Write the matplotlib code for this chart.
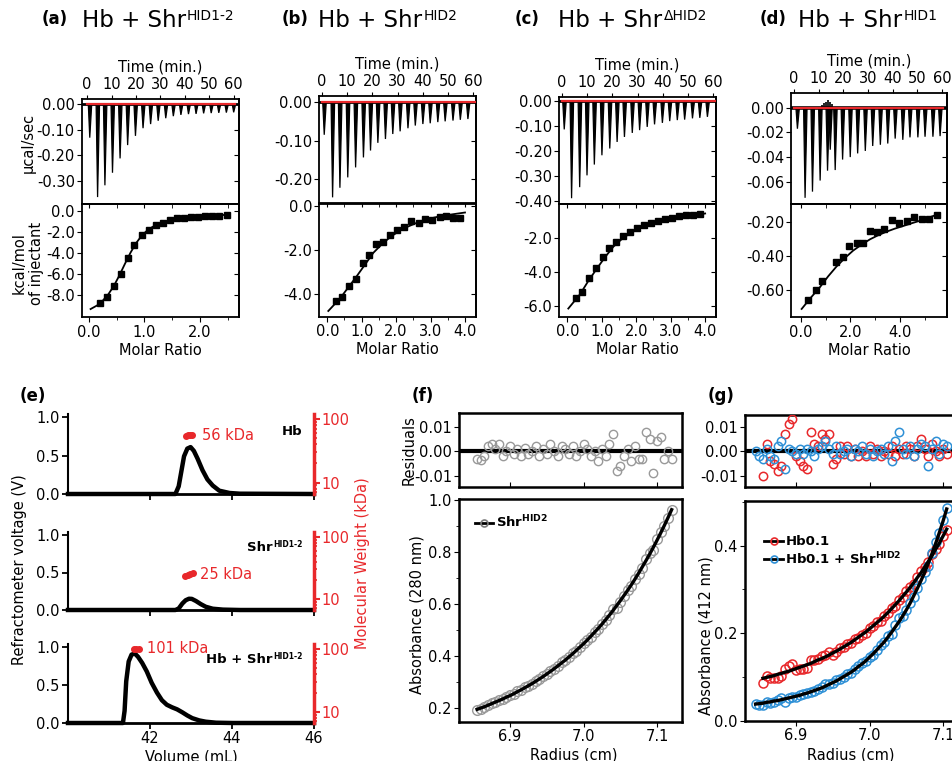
import numpy as np
import matplotlib
matplotlib.use("Agg")
import matplotlib.pyplot as plt
from matplotlib.ticker import MultipleLocator, FormatStrFormatter, NullFormatter
from matplotlib.lines import Line2D

plt.rcParams['font.family'] = ['DejaVu Sans']
plt.rcParams['axes.unicode_minus'] = False
plt.rcParams['mathtext.fontset'] = 'dejavusans'

# ---------------- ITC data ----------------
a_time = [0.8, 4.0, 7.0, 10.1, 13.2, 16.3, 19.5, 22.6, 25.7, 28.8, 31.9, 35.0, 38.1, 41.2, 44.3, 47.4, 50.5, 53.6, 56.7, 59.7]
a_peak = [-0.131, -0.363, -0.317, -0.268, -0.212, -0.160, -0.124, -0.094, -0.078, -0.065, -0.055, -0.047, -0.042, -0.039, -0.038, -0.036, -0.035, -0.034, -0.033, -0.032]
a_ratio = [0.20, 0.33, 0.45, 0.57, 0.70, 0.82, 0.95, 1.08, 1.21, 1.33, 1.46, 1.59, 1.71, 1.84, 1.97, 2.10, 2.22, 2.35, 2.48]
a_heat = [-8.70, -8.15, -7.10, -5.95, -4.50, -3.20, -2.30, -1.80, -1.30, -1.15, -0.85, -0.70, -0.70, -0.60, -0.55, -0.50, -0.45, -0.45, -0.40]
a_fit_x = [0.03, 0.15, 0.25, 0.35, 0.45, 0.55, 0.65, 0.75, 0.85, 0.95, 1.05, 1.15, 1.30, 1.50, 1.70, 1.90, 2.10, 2.30, 2.50]
a_fit_y = [-9.30, -8.95, -8.50, -7.90, -7.10, -6.10, -5.00, -3.95, -3.05, -2.35, -1.85, -1.50, -1.15, -0.88, -0.70, -0.58, -0.49, -0.42, -0.36]

b_time = [0.7, 4.0, 6.9, 10.0, 13.1, 16.2, 19.0, 21.9, 24.9, 27.8, 30.7, 33.8, 36.7, 39.7, 42.6, 45.6, 48.5, 51.6, 54.5, 57.5]
b_peak = [-0.085, -0.248, -0.223, -0.196, -0.170, -0.144, -0.126, -0.106, -0.096, -0.083, -0.076, -0.068, -0.061, -0.057, -0.055, -0.052, -0.050, -0.048, -0.046, -0.044]
b_ratio = [0.24, 0.44, 0.64, 0.83, 1.03, 1.22, 1.41, 1.63, 1.83, 2.03, 2.24, 2.44, 2.65, 2.85, 3.05, 3.26, 3.46, 3.66, 3.86]
b_heat = [-4.31, -4.12, -3.63, -3.30, -2.58, -2.24, -1.73, -1.61, -1.31, -1.08, -0.96, -0.69, -0.76, -0.57, -0.62, -0.49, -0.45, -0.53, -0.53]
b_fit_x = [0.03, 0.37, 0.60, 0.85, 1.10, 1.34, 1.58, 1.82, 2.06, 2.30, 2.55, 2.79, 3.03, 3.27, 3.60, 4.00]
b_fit_y = [-4.77, -4.20, -3.72, -3.20, -2.65, -2.12, -1.74, -1.42, -1.16, -0.96, -0.79, -0.65, -0.55, -0.46, -0.38, -0.29]

c_time = [0.7, 3.6, 6.8, 9.7, 12.6, 15.6, 18.7, 21.6, 24.5, 27.6, 30.5, 33.5, 36.4, 39.5, 42.4, 45.4, 48.3, 51.4, 54.3, 57.3]
c_peak = [-0.113, -0.387, -0.343, -0.296, -0.253, -0.216, -0.189, -0.163, -0.143, -0.127, -0.116, -0.103, -0.093, -0.087, -0.080, -0.076, -0.074, -0.069, -0.067, -0.063]
c_ratio = [0.24, 0.44, 0.63, 0.82, 1.03, 1.22, 1.41, 1.63, 1.83, 2.03, 2.23, 2.43, 2.64, 2.84, 3.04, 3.25, 3.45, 3.64, 3.85]
c_heat = [-5.50, -5.17, -4.33, -3.75, -3.13, -2.58, -2.19, -1.86, -1.65, -1.42, -1.22, -1.09, -0.97, -0.87, -0.78, -0.70, -0.64, -0.60, -0.58]
c_fit_x = [0.03, 0.37, 0.60, 0.85, 1.10, 1.34, 1.58, 1.82, 2.06, 2.31, 2.55, 2.79, 3.03, 3.28, 3.60, 4.00]
c_fit_y = [-6.14, -5.30, -4.55, -3.81, -3.10, -2.49, -2.05, -1.71, -1.46, -1.28, -1.11, -0.97, -0.87, -0.78, -0.67, -0.54]

d_time = [1.1, 4.2, 7.2, 10.3, 13.3, 14.4, 16.4, 19.4, 22.5, 25.5, 28.6, 31.6, 34.7, 37.7, 40.7, 43.8, 46.7, 49.9, 52.8, 56.0, 58.9]
d_peak = [-0.017, -0.073, -0.068, -0.059, -0.051, -0.034, -0.0505, -0.042, -0.040, -0.037, -0.035, -0.031, -0.030, -0.029, -0.025, -0.026, -0.024, -0.024, -0.0235, -0.0235, -0.023]
d_noise_t = [11.5, 12.3, 13.0, 13.8, 14.6, 15.3]
d_noise_v = [0.002, 0.004, 0.005, 0.006, 0.005, 0.003]
d_ratio = [0.30, 0.59, 0.86, 1.40, 1.68, 1.95, 2.25, 2.52, 2.81, 3.08, 3.37, 3.66, 3.97, 4.27, 4.58, 4.88, 5.18, 5.48]
d_heat = [-0.656, -0.598, -0.546, -0.433, -0.408, -0.342, -0.322, -0.322, -0.252, -0.262, -0.245, -0.190, -0.206, -0.196, -0.171, -0.181, -0.184, -0.161]
d_fit_x = [0.03, 0.40, 0.77, 1.10, 1.44, 1.78, 2.11, 2.45, 2.79, 3.12, 3.46, 3.80, 4.13, 4.47, 4.81, 5.18, 5.55]
d_fit_y = [-0.711, -0.645, -0.583, -0.520, -0.462, -0.412, -0.369, -0.334, -0.303, -0.279, -0.258, -0.240, -0.225, -0.209, -0.194, -0.175, -0.155]

itc_red_time = [0.0, 60.5]

# ---------------- SEC-MALS data ----------------
hb_vol = [40.0, 42.62, 42.70, 42.77, 42.83, 42.91, 42.99, 43.07, 43.16, 43.28, 43.40, 43.53, 43.69, 43.94, 44.19, 46.0]
hb_rv = [0.0, 0.0, 0.10, 0.31, 0.49, 0.59, 0.61, 0.56, 0.46, 0.31, 0.19, 0.11, 0.043, 0.013, 0.004, 0.0]
shr_vol = [40.0, 42.62, 42.70, 42.79, 42.87, 42.95, 43.02, 43.12, 43.24, 43.36, 43.53, 43.78, 44.2, 46.0]
shr_rv = [0.0, 0.0, 0.02, 0.087, 0.13, 0.15, 0.148, 0.12, 0.078, 0.043, 0.017, 0.005, 0.0, 0.0]
cx_vol = [40.0, 41.34, 41.38, 41.42, 41.48, 41.55, 41.63, 41.71, 41.81, 41.92, 42.04, 42.17, 42.29, 42.41, 42.54, 42.66, 42.79, 42.91, 43.03, 43.20, 43.36, 43.61, 44.02, 46.0]
cx_rv = [0.0, 0.0, 0.16, 0.55, 0.81, 0.90, 0.915, 0.87, 0.79, 0.68, 0.53, 0.40, 0.30, 0.24, 0.206, 0.18, 0.14, 0.099, 0.064, 0.034, 0.017, 0.004, 0.0, 0.0]
hb_mw_vol = [42.88, 42.93, 42.98, 43.03]
hb_mw = [54.5, 55.5, 56.5, 57.0]
shr_mw_vol = [42.86, 42.92, 42.98, 43.04]
shr_mw = [23.5, 24.3, 25.0, 25.7]
cx_mw_vol = [41.60, 41.66, 41.72]
cx_mw = [99.0, 100.0, 100.0]

# ---------------- AUC data ----------------
radius_f = [6.855, 6.860, 6.865, 6.870, 6.875, 6.880, 6.885, 6.890, 6.895, 6.900,
            6.905, 6.910, 6.915, 6.920, 6.925, 6.930, 6.935, 6.940, 6.945, 6.950,
            6.955, 6.960, 6.965, 6.970, 6.975, 6.980, 6.985, 6.990, 6.995, 7.000,
            7.005, 7.010, 7.015, 7.020, 7.025, 7.030, 7.035, 7.040, 7.045, 7.050,
            7.055, 7.060, 7.065, 7.070, 7.075, 7.080, 7.085, 7.090, 7.095, 7.100,
            7.105, 7.110, 7.115, 7.120]
abs_f = [0.196, 0.201, 0.206, 0.212, 0.218, 0.224, 0.230, 0.236, 0.243, 0.249,
         0.256, 0.264, 0.271, 0.279, 0.287, 0.295, 0.304, 0.313, 0.322, 0.332,
         0.342, 0.352, 0.363, 0.374, 0.385, 0.397, 0.409, 0.422, 0.435, 0.448,
         0.462, 0.477, 0.492, 0.507, 0.523, 0.540, 0.557, 0.575, 0.594, 0.613,
         0.633, 0.653, 0.674, 0.696, 0.719, 0.743, 0.767, 0.792, 0.818, 0.845,
         0.873, 0.902, 0.932, 0.963]
res_f = [-0.003, -0.0035, -0.002, 0.002, 0.003, 0.001, 0.003, -0.002, 0.000, 0.002,
         -0.001, 0.001, -0.002, 0.0015, -0.001, 0.000, 0.002, -0.002, 0.001, -0.001,
         0.003, 0.000, -0.002, 0.002, 0.001, -0.001, 0.002, -0.002, 0.000, 0.003,
         0.001, -0.002, 0.000, -0.004, 0.001, -0.002, 0.003, 0.007, -0.008, -0.006,
         -0.002, 0.001, -0.004, 0.002, -0.003, -0.003, 0.008, 0.005, -0.009, 0.004,
         0.006, -0.003, 0.000, -0.003]

radius_g = [6.845, 6.850, 6.855, 6.860, 6.865, 6.870, 6.875, 6.880, 6.885, 6.890,
            6.895, 6.900, 6.905, 6.910, 6.915, 6.920, 6.925, 6.930, 6.935, 6.940,
            6.945, 6.950, 6.955, 6.960, 6.965, 6.970, 6.975, 6.980, 6.985, 6.990,
            6.995, 7.000, 7.005, 7.010, 7.015, 7.020, 7.025, 7.030, 7.035, 7.040,
            7.045, 7.050, 7.055, 7.060, 7.065, 7.070, 7.075, 7.080, 7.085, 7.090,
            7.095, 7.100, 7.105]
abs_red = [0.097, 0.099, 0.101, 0.103, 0.106, 0.108, 0.111, 0.113, 0.116, 0.119,
           0.122, 0.125, 0.128, 0.131, 0.135, 0.139, 0.142, 0.146, 0.150, 0.155,
           0.159, 0.164, 0.169, 0.174, 0.179, 0.185, 0.191, 0.197, 0.203, 0.210,
           0.217, 0.224, 0.231, 0.239, 0.247, 0.256, 0.265, 0.274, 0.284, 0.294,
           0.304, 0.315, 0.327, 0.338, 0.351, 0.364, 0.377, 0.392, 0.406, 0.422,
           0.438]
res_red = [-0.010, 0.003, -0.004, -0.005, -0.008, -0.006, 0.007, 0.011, 0.013, -0.002,
           -0.004, -0.006, -0.007, 0.008, 0.003, 0.002, 0.007, 0.005, 0.007, -0.005,
           -0.003, 0.002, -0.001, 0.002, -0.002, 0.001, -0.002, 0.000, -0.002, 0.002,
           -0.001, 0.001, -0.002, 0.000, -0.001, 0.002, -0.002, 0.001, -0.001, 0.002,
           0.001, -0.002, 0.002, 0.005, 0.001, -0.002, 0.003, 0.000, -0.002, 0.001,
           -0.001]
abs_blue = [0.038, 0.039, 0.040, 0.042, 0.043, 0.045, 0.046, 0.048, 0.050, 0.052,
            0.054, 0.056, 0.058, 0.061, 0.063, 0.066, 0.069, 0.072, 0.075, 0.079,
            0.083, 0.087, 0.091, 0.096, 0.101, 0.106, 0.111, 0.117, 0.124, 0.130,
            0.137, 0.145, 0.153, 0.162, 0.171, 0.180, 0.191, 0.202, 0.214, 0.226,
            0.239, 0.253, 0.268, 0.285, 0.302, 0.320, 0.339, 0.360, 0.382, 0.405,
            0.430, 0.456, 0.484]
res_blue = [0.000, -0.002, -0.003, 0.001, -0.002, -0.003, 0.002, 0.004, -0.007, 0.001,
            0.000, -0.001, 0.001, -0.001, 0.001, 0.000, -0.002, 0.001, 0.002, 0.004,
            0.001, -0.001, 0.002, -0.001, 0.000, 0.001, -0.002, 0.001, 0.000, 0.002,
            -0.001, 0.001, -0.002, 0.000, 0.001, -0.001, 0.002, -0.004, 0.004, 0.008,
            0.001, -0.001, 0.002, -0.002, 0.001, 0.003, 0.002, -0.006, 0.001, 0.004,
            -0.001, 0.003, 0.002]

RED = '#e8282b'
BLUE = '#2e90d6'
GREY = '#999999'

# ---------------- figure ----------------
W, H = 952, 761
fig = plt.figure(figsize=(W / 100, H / 100), dpi=100)
renderer = fig.canvas.get_renderer()


def px_axes(l, t, r, b):
    return fig.add_axes([l / W, 1 - b / H, (r - l) / W, (b - t) / H])


def ftext(x, y, s, **kw):
    return fig.text(x / W, 1 - y / H, s, **kw)


def sup_label(x, y, base, sup, size, sup_size, rise, weight='normal', color='k', ha='left'):
    tb = ftext(x, y, base, fontsize=size, fontweight=weight, color=color, va='baseline', ha='left')
    ts = ftext(x, y - rise, sup, fontsize=sup_size, fontweight=weight, color=color, va='baseline', ha='left')
    wb = tb.get_window_extent(renderer).width
    ws = ts.get_window_extent(renderer).width
    x0 = x - wb - ws - 1 if ha == 'right' else x
    tb.set_x(x0 / W)
    ts.set_x((x0 + wb + 1) / W)


TS = 10.5  # tick label size


def itc_top(ax, t, pk, xlim, ylim, yticks, base_lw=2.0):
    ax.axhline(0, color='k', lw=base_lw, zorder=2)
    for ti, p in zip(t, pk):
        ax.fill([ti - 0.3, ti + 0.3, ti + 1.1], [0, p, 0], color='k', lw=0.9, zorder=3)
    ax.plot(itc_red_time, [0, 0], color=RED, lw=1.6, zorder=4)
    ax.set_xlim(*xlim)
    ax.set_ylim(*ylim)
    ax.xaxis.tick_top()
    ax.xaxis.set_label_position('top')
    ax.set_xticks(range(0, 61, 10))
    ax.set_xlabel('Time (min.)', fontsize=10.5, labelpad=4)
    ax.set_yticks(yticks)
    ax.yaxis.set_major_formatter(FormatStrFormatter('%.2f'))
    ax.tick_params(axis='x', which='both', top=True, bottom=False, direction='out', length=3, pad=2, labelsize=TS)
    ax.tick_params(axis='y', direction='out', length=3.5, pad=1.5, labelsize=TS, right=False)
    sec = ax.secondary_yaxis('right')
    sec.set_yticks(yticks)
    sec.tick_params(direction='in', length=3.5, labelright=False)
    for s in ax.spines.values():
        s.set_linewidth(1.3)
    sec.spines['right'].set_linewidth(1.3)


def itc_bot(ax, rx, ry, fx, fy, xlim, ylim, yticks, xticks, xminor, yfmt):
    ax.plot(fx, fy, color='k', lw=1.3, zorder=3)
    ax.plot(rx, ry, 's', color='k', ms=4.2, zorder=4)
    ax.set_xlim(*xlim)
    ax.set_ylim(*ylim)
    ax.set_yticks(yticks)
    ax.yaxis.set_major_formatter(FormatStrFormatter(yfmt))
    ax.set_xticks(xticks)
    ax.xaxis.set_major_formatter(FormatStrFormatter('%.1f'))
    ax.xaxis.set_minor_locator(MultipleLocator(xminor))
    ax.set_xlabel('Molar Ratio', fontsize=10.5, labelpad=2)
    ax.tick_params(axis='x', which='major', direction='out', length=3.5, pad=2, labelsize=TS, top=False)
    ax.tick_params(axis='x', which='minor', direction='out', length=2, top=False)
    ax.tick_params(axis='y', direction='out', length=3.5, pad=1.5, labelsize=TS, right=False)
    sx = ax.secondary_xaxis('top')
    sx.set_xticks(xticks)
    sx.xaxis.set_minor_locator(MultipleLocator(xminor))
    sx.tick_params(axis='x', which='both', direction='in', length=3, labeltop=False)
    sy = ax.secondary_yaxis('right')
    sy.set_yticks(yticks)
    sy.tick_params(direction='in', length=3.5, labelright=False)
    for s in ax.spines.values():
        s.set_linewidth(1.3)
    sx.spines['top'].set_linewidth(1.3)
    sy.spines['right'].set_linewidth(1.3)


# (a)
ax = px_axes(81.7, 99, 239.3, 204)
itc_top(ax, a_time, a_peak, (-2.2, 62.3), (-0.39, 0.02), [0, -0.1, -0.2, -0.3])
ax = px_axes(81.7, 204, 239.3, 317.5)
itc_bot(ax, a_ratio, a_heat, a_fit_x, a_fit_y, (-0.13, 2.71), (-10.1, 0.66),
        [0, -2, -4, -6, -8], [0, 1, 2], 0.5, '%.1f')
# (b)
ax = px_axes(319, 96, 476, 203.5)
itc_top(ax, b_time, b_peak, (-1.07, 61.0), (-0.264, 0.016), [0, -0.1, -0.2])
ax = px_axes(319, 203.5, 476, 316.7)
itc_bot(ax, b_ratio, b_heat, b_fit_x, b_fit_y, (-0.24, 4.32), (-5.03, 0.12),
        [0, -2, -4], [0, 1, 2, 3, 4], 0.5, '%.1f')
# (c)
ax = px_axes(559, 96.5, 715.5, 204)
itc_top(ax, c_time, c_peak, (-1.07, 60.8), (-0.41, 0.018), [0, -0.1, -0.2, -0.3, -0.4])
ax = px_axes(559, 204, 715.5, 316.7)
itc_bot(ax, c_ratio, c_heat, c_fit_x, c_fit_y, (-0.24, 4.30), (-6.62, 0.02),
        [-2, -4, -6], [0, 1, 2, 3, 4], 0.5, '%.1f')
# (d)
ax = px_axes(791, 93.3, 947, 204)
itc_top(ax, d_time, d_peak, (-1.2, 62.0), (-0.078, 0.0117), [0, -0.02, -0.04, -0.06], base_lw=2.6)
ax.vlines(d_noise_t, 0, d_noise_v, color='k', lw=1.2, zorder=3)
ax = px_axes(791, 204, 947, 317.3)
itc_bot(ax, d_ratio, d_heat, d_fit_x, d_fit_y, (-0.40, 5.9), (-0.76, -0.096),
        [-0.2, -0.4, -0.6], [0, 2, 4], 1.0, '%.2f')

# ITC texts
for letter, x_let, x_t, sup in [('a', 42, 81.7, 'HID1-2'), ('b', 281.7, 318.3, 'HID2'),
                                ('c', 515, 558.3, '\u0394HID2'), ('d', 760, 798.3, 'HID1')]:
    ftext(x_let, 24, '(' + letter + ')', fontsize=12, fontweight='bold', va='baseline')
    sup_label(x_t, 27, 'Hb + Shr', sup, 16.5, 10, 6.8)
ftext(28, 143, '\u03bccal/sec', fontsize=10.5, rotation=90, ha='center', va='center')
ftext(28, 263, 'kcal/mol\nof injectant', fontsize=10.5, rotation=90, ha='center', va='center', linespacing=1.15)


# ---------------- (e) SEC-MALS ----------------
def sec_panel(ax, vol, rv, mwv, mw, show_x):
    ax.plot(vol, rv, color='k', lw=3.2, clip_on=False, zorder=3, solid_joinstyle='round')
    ax.set_xlim(40, 46)
    ax.set_ylim(0, 1.04)
    ax.spines['top'].set_visible(False)
    ax.spines['right'].set_visible(False)
    ax.spines['left'].set_linewidth(1.5)
    ax.spines['bottom'].set_linewidth(2.0)
    ax.set_yticks([0, 0.5, 1.0])
    ax.yaxis.set_major_formatter(FormatStrFormatter('%.1f'))
    ax.set_xticks([42, 44, 46])
    ax.tick_params(direction='out', length=4, width=1.3, labelsize=TS, pad=2)
    if not show_x:
        ax.tick_params(axis='x', labelbottom=False)
    tw = ax.twinx()
    tw.set_yscale('log')
    tw.set_ylim(6.6, 120)
    tw.plot(mwv, mw, color=RED, lw=3, marker='o', ms=4, solid_capstyle='round')
    for s in ['left', 'top', 'bottom']:
        tw.spines[s].set_visible(False)
    tw.spines['right'].set_color(RED)
    tw.spines['right'].set_linewidth(2.5)
    tw.set_yticks([10, 100])
    tw.set_yticklabels(['10', '100'])
    tw.yaxis.set_minor_formatter(NullFormatter())
    tw.tick_params(axis='y', which='both', colors=RED, direction='out', labelsize=TS, pad=1.5)
    tw.tick_params(axis='y', which='major', length=4, width=1.5)
    tw.tick_params(axis='y', which='minor', length=2.5, width=1.2)
    return tw


ax1 = px_axes(68, 414, 314, 494)
tw1 = sec_panel(ax1, hb_vol, hb_rv, hb_mw_vol, hb_mw, False)
tw1.text(43.26, 56, '56 kDa', color=RED, fontsize=10.5, va='center')
ax2 = px_axes(68, 532, 314, 610)
tw2 = sec_panel(ax2, shr_vol, shr_rv, shr_mw_vol, shr_mw, False)
tw2.text(43.23, 25, '25 kDa', color=RED, fontsize=10.5, va='center')
ax3 = px_axes(68, 644, 314, 723)
tw3 = sec_panel(ax3, cx_vol, cx_rv, cx_mw_vol, cx_mw, True)
tw3.text(41.92, 100, '101 kDa', color=RED, fontsize=10.5, va='center')
ax3.set_xlabel('Volume (mL)', fontsize=10.5, labelpad=2)

ftext(20, 401, '(e)', fontsize=12, fontweight='bold', va='baseline')
ftext(302, 435, 'Hb', fontsize=9.5, fontweight='bold', ha='right', va='baseline')
sup_label(303, 551, 'Shr', 'HID1-2', 9.5, 5.5, 4.0, weight='bold', ha='right')
sup_label(303, 663, 'Hb + Shr', 'HID1-2', 9.5, 5.5, 4.0, weight='bold', ha='right')
ftext(20, 570, 'Refractometer voltage (V)', fontsize=10.5, rotation=90, ha='center', va='center')
ftext(362, 563, 'Molecular Weight (kDa)', fontsize=10.5, rotation=90, ha='center', va='center', color=RED)

# ---------------- (f) AUC ----------------
rf = np.array(radius_f)
af = np.array(abs_f)
rsf = np.array(res_f)

axr = px_axes(459, 413.3, 682, 487.3)
axr.axhline(0, color='k', lw=3, zorder=2)
axr.plot(rf, rsf, 'o', mfc='none', mec=GREY, ms=6, mew=1.0, zorder=3)
axr.set_xlim(6.8304, 7.1341)
axr.set_ylim(-0.01463, 0.01545)
axr.set_yticks([0.01, 0.0, -0.01])
axr.yaxis.set_major_formatter(FormatStrFormatter('%.2f'))
axr.set_xticks([6.9, 7.0, 7.1])
axr.tick_params(axis='x', direction='in', length=3.5, labelbottom=False)
axr.tick_params(axis='y', direction='out', length=3.5, labelsize=TS, pad=1.5)
for s in axr.spines.values():
    s.set_linewidth(1.8)

axm = px_axes(459, 499, 682, 721.7)
axm.plot(rf, af + rsf, 'o', mfc='none', mec=GREY, ms=7, mew=1.0, zorder=2)
axm.plot(rf, af, color='k', lw=2.4, zorder=3)
axm.set_xlim(6.8304, 7.1341)
axm.set_ylim(0.1486, 1.004)
axm.set_yticks([0.2, 0.4, 0.6, 0.8, 1.0])
axm.yaxis.set_major_formatter(FormatStrFormatter('%.1f'))
axm.yaxis.set_minor_locator(MultipleLocator(0.1))
axm.set_xticks([6.9, 7.0, 7.1])
axm.xaxis.set_major_formatter(FormatStrFormatter('%.1f'))
axm.tick_params(axis='both', which='major', direction='out', length=3.5, labelsize=TS, pad=2)
axm.tick_params(axis='y', which='minor', direction='out', length=2)
for s in axm.spines.values():
    s.set_linewidth(1.8)
hf = [Line2D([], [], color='k', lw=2, marker='o', mfc='none', mec='#7a7a7a', ms=5, mew=1.2)]
axm.legend(hf, [r'$\mathbf{Shr^{HID2}}$'], loc='upper left', bbox_to_anchor=(0.03, 0.975),
           frameon=False, handlelength=1.4, handletextpad=0.2, borderpad=0.2,
           prop={'weight': 'bold', 'size': 9.5})

ftext(412, 401, '(f)', fontsize=12, fontweight='bold', va='baseline')
ftext(409, 450, 'Residuals', fontsize=10.5, rotation=90, ha='center', va='center')
ftext(417, 615, 'Absorbance (280 nm)', fontsize=10.5, rotation=90, ha='center', va='center')
ftext(574, 755, 'Radius (cm)', fontsize=10.5, ha='center', va='center')

# ---------------- (g) AUC ----------------
rg = np.array(radius_g)
rg_red = rg[2:]
ar = np.array(abs_red)
rr = np.array(res_red)
ab = np.array(abs_blue)
rb = np.array(res_blue)

axr = px_axes(745, 415, 968, 487)
axr.axhline(0, color='k', lw=3, zorder=2)
axr.plot(rg_red, rr, 'o', mfc='none', mec=RED, ms=6, mew=1.1, zorder=3)
axr.plot(rg, rb, 'o', mfc='none', mec=BLUE, ms=6, mew=1.1, zorder=4)
axr.set_xlim(6.8306, 7.134)
axr.set_ylim(-0.0145, 0.01476)
axr.set_yticks([0.01, 0.0, -0.01])
axr.yaxis.set_major_formatter(FormatStrFormatter('%.2f'))
axr.set_xticks([6.9, 7.0, 7.1])
axr.tick_params(axis='x', direction='in', length=3.5, labelbottom=False)
axr.tick_params(axis='y', direction='out', length=3.5, labelsize=TS, pad=1.5)
for s in axr.spines.values():
    s.set_linewidth(1.8)

axm = px_axes(745, 500.7, 968, 720.7)
axm.plot(rg_red, ar + rr, 'o', mfc='none', mec=RED, ms=6.5, mew=1.1, zorder=2)
axm.plot(rg, ab + rb, 'o', mfc='none', mec=BLUE, ms=6.5, mew=1.1, zorder=2)
axm.plot(rg_red, ar, color='k', lw=2.4, zorder=3)
axm.plot(rg, ab, color='k', lw=2.4, zorder=3)
axm.set_xlim(6.8306, 7.134)
axm.set_ylim(0.0, 0.503)
axm.set_yticks([0.0, 0.2, 0.4])
axm.yaxis.set_major_formatter(FormatStrFormatter('%.1f'))
axm.yaxis.set_minor_locator(MultipleLocator(0.1))
axm.set_xticks([6.9, 7.0, 7.1])
axm.xaxis.set_major_formatter(FormatStrFormatter('%.1f'))
axm.tick_params(axis='both', which='major', direction='out', length=3.5, labelsize=TS, pad=2)
axm.tick_params(axis='y', which='minor', direction='out', length=2)
for s in axm.spines.values():
    s.set_linewidth(1.8)
hg = [Line2D([], [], color='k', lw=2, marker='o', mfc='none', mec=RED, ms=5, mew=1.2),
      Line2D([], [], color='k', lw=2, marker='o', mfc='none', mec=BLUE, ms=5, mew=1.2)]
axm.legend(hg, ['Hb0.1', r'Hb0.1 + Shr$^{\mathbf{HID2}}$'], loc='upper left', bbox_to_anchor=(0.045, 0.885),
           frameon=False, handlelength=1.4, handletextpad=0.2, borderpad=0.2, labelspacing=0.15,
           prop={'weight': 'bold', 'size': 9.5})

ftext(708, 401, '(g)', fontsize=12, fontweight='bold', va='baseline')
ftext(706, 636, 'Absorbance (412 nm)', fontsize=10.5, rotation=90, ha='center', va='center')
ftext(851, 755, 'Radius (cm)', fontsize=10.5, ha='center', va='center')

fig.savefig('out.png', dpi=100)
